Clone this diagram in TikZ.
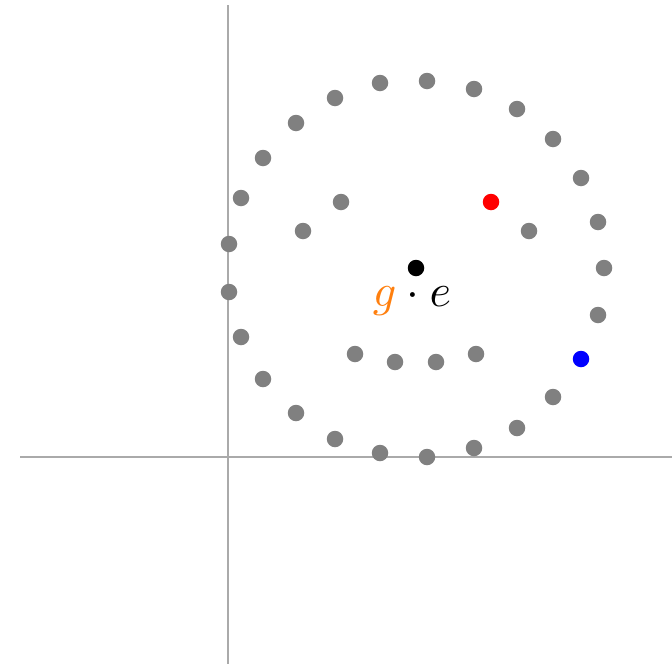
\documentclass[tikz,border=0pt]{standalone}
\definecolor{dotgray}{RGB}{128,128,128}
\definecolor{axisgray}{RGB}{170,170,170}
\definecolor{gorange}{RGB}{255,127,14}
\begin{document}
\begin{tikzpicture}[x=1pt,y=-1pt,
  dot/.style={circle,fill=dotgray,inner sep=0pt,minimum size=16.5pt},
  axisline/.style={draw=axisgray,line width=1.4pt}]
\useasboundingbox (0,0) rectangle (672,664);
\coordinate (ytop) at (228,5);
\coordinate (ybot) at (228,664);
\coordinate (xl) at (20,457);
\coordinate (xr) at (672,457);
\draw[axisline] (ytop) -- (ybot);
\draw[axisline] (xl) -- (xr);
% outer ring
\foreach \x/\y [count=\i] in {380/83,427/81,474/89,517/109,553/139,581/178,598/222,604/268,598/315,553/397,517/428,474/448,427/457,380/453,335/439,296/413,263/379,241/337,229/292,229/244,241/198,263/158,296/123,335/98}
  \node[dot] (o\i) at (\x,\y) {};
% inner ring
\foreach \x/\y [count=\i] in {341/202,303/231,355/354,395/362,436/362,476/354,529/231}
  \node[dot] (n\i) at (\x,\y) {};
\node[dot,fill=red] (r) at (491,202) {};
\node[dot,fill=blue] (b) at (581,359) {};
\node[dot,fill=black] (e) at (416,268) {};
\node[anchor=base,inner sep=0pt,scale=4.6] (lab) at (412,306) {$\textcolor{gorange}{g}\cdot e$};
\end{tikzpicture}
\end{document}
